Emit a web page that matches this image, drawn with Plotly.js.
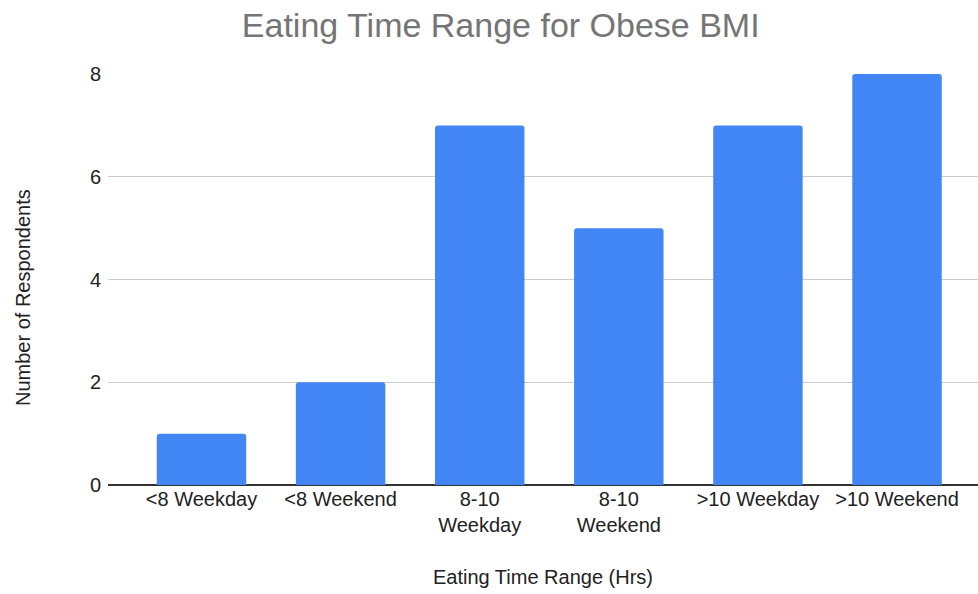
<!DOCTYPE html>
<html>
<head>
<meta charset="utf-8">
<script src="https://cdn.plot.ly/plotly-3.0.1.min.js"></script>
<style>html,body{margin:0;padding:0;background:#fff;}#chart{width:978px;height:594px;}</style>
</head>
<body>
<div id="chart"></div>
<script>
const categories = ["<8 Weekday", "<8 Weekend", "8-10<br>Weekday", "8-10<br>Weekend", ">10 Weekday", ">10 Weekend"];
const respondents = [1, 2, 7, 5, 7, 8];
const yTicks = [0, 2, 4, 6, 8];

const FONT = "'Liberation Sans', Arial, Helvetica, sans-serif";

const trace = {
  type: "bar",
  x: categories,
  y: respondents,
  marker: {color: "#4285F4"},
  hoverinfo: "x+y"
};

const layout = {
  width: 978,
  height: 594,
  margin: {l: 108, r: 0, t: 74, b: 109},
  paper_bgcolor: "#ffffff",
  plot_bgcolor: "#ffffff",
  font: {family: FONT, size: 20, color: "#222222"},
  title: {
    text: "Eating Time Range for Obese BMI",
    font: {size: 34, color: "#757575", family: FONT},
    xref: "container", yref: "container",
    x: 0.512, y: 0.958, xanchor: "center", yanchor: "middle"
  },
  bargap: 0.357,
  barcornerradius: 3,
  showlegend: false,
  xaxis: {
    type: "category",
    range: [-0.672, 5.582],
    showgrid: false,
    showline: false,
    ticks: "",
    tickfont: {size: 20, color: "#222222", family: FONT},
    title: {text: "Eating Time Range (Hrs)", font: {size: 20, color: "#222222", family: FONT}, standoff: 34},
    automargin: false
  },
  yaxis: {
    range: [0, 8],
    tickvals: yTicks,
    ticktext: yTicks.map(String),
    showgrid: true,
    gridcolor: "#cccccc",
    gridwidth: 1,
    zeroline: true,
    zerolinecolor: "#333333",
    zerolinewidth: 1.5,
    showline: false,
    ticks: "",
    ticklabelstandoff: 6,
    tickfont: {size: 20, color: "#222222", family: FONT},
    automargin: false
  },
  annotations: [{
    text: "Number of Respondents",
    xref: "paper", yref: "paper",
    x: -0.0977, y: 0.455,
    xanchor: "center", yanchor: "middle",
    textangle: -90,
    showarrow: false,
    font: {size: 20, color: "#222222", family: FONT}
  }]
};

Plotly.newPlot("chart", [trace], layout, {displayModeBar: false, staticPlot: true});
</script>
</body>
</html>
